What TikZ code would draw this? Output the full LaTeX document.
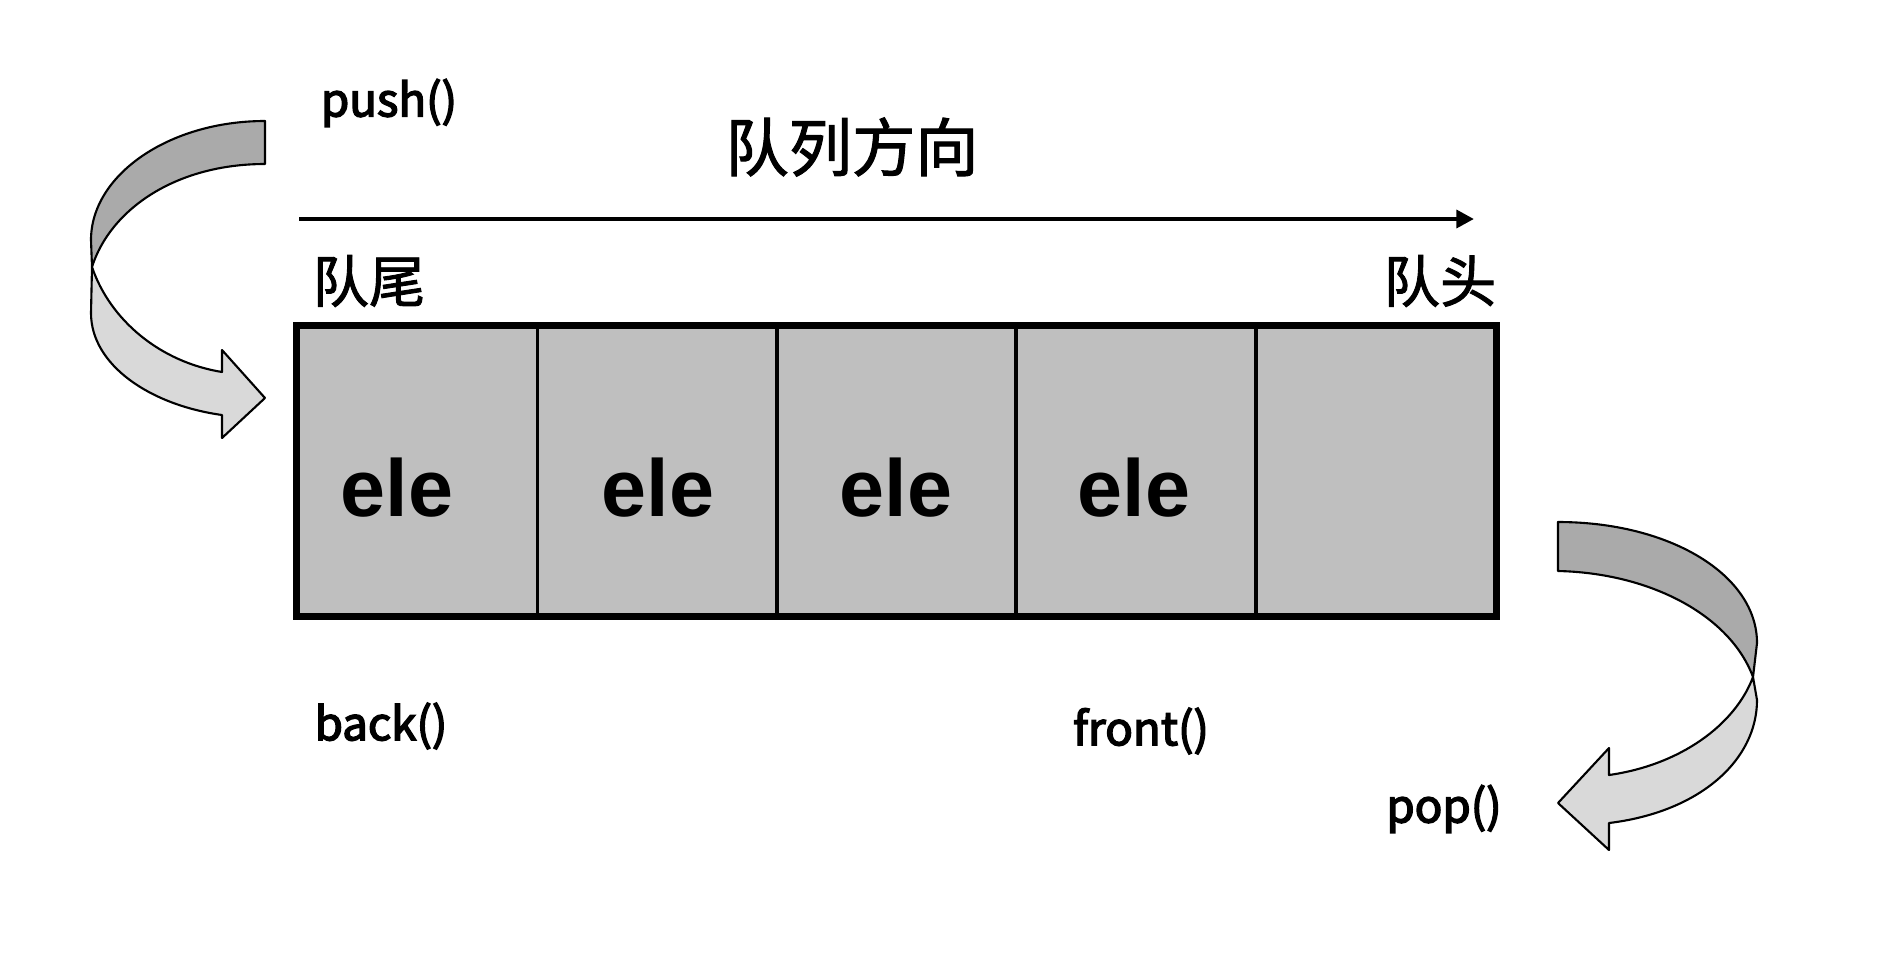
\documentclass[tikz,border=0pt]{standalone}
\usepackage{fontspec}
\setmainfont{Noto Sans CJK SC}
\newfontfamily\medfont{Noto Sans CJK SC}[FakeBold=1.6]
\newfontfamily\opfont{Noto Sans CJK SC}[FakeBold=3.2]
\newfontfamily\elefont{Liberation Sans}
\usetikzlibrary{arrows.meta}
\definecolor{cellgray}{RGB}{191,191,191}
\definecolor{bandback}{RGB}{170,170,170}
\definecolor{bandfront}{RGB}{217,217,217}

\tikzset{
	cell/.style = {draw, line width=1pt, fill=cellgray, minimum width=2.39cm, minimum height=2.88cm, inner sep=0pt},
	eletext/.style = {font=\elefont\bfseries\fontsize{23}{27}\selectfont},
	optext/.style = {font=\opfont\fontsize{13}{16}\selectfont},
	cntext/.style = {font=\medfont\fontsize{16}{19}\selectfont},
	band/.style = {draw, line width=0.6pt, line join=round}
}

\begin{document}
\begin{tikzpicture}[x=0.01cm, y=-0.01cm]
	\useasboundingbox (0,0) rectangle (1891,954);
	% queue cells
	\foreach \i in {1,...,5}
		\node[cell] (c\i) at ({298+239.4*(\i-0.5)},471) {};
	\draw[line width=1.9pt] (c1.north west) rectangle (c5.south east);
	\node[eletext] (e1) at (397,488) {ele};
	\node[eletext] (e2) at (658,488) {ele};
	\node[eletext] (e3) at (896,488) {ele};
	\node[eletext] (e4) at (1134,488) {ele};
	% direction
	\coordinate (dirL) at (299,219);
	\coordinate (dirR) at (1474,219);
	\draw[line width=1.4pt, -{Triangle[length=5pt,width=5pt]}] (dirL) -- (dirR);
	\node[cntext, font=\medfont\fontsize{18}{22}\selectfont] (title) at (852,147) {队列方向};
	\node[cntext] (tail) at (369,281) {队尾};
	\node[cntext] (head) at (1440,281) {队头};
	% labels
	\node[optext] (push) at (389,103) {push()};
	\node[optext] (back) at (381,726) {back()};
	\node[optext] (front) at (1141,731) {front()};
	\node[optext] (pop) at (1444,809) {pop()};
	% push arrow
	\filldraw[band, fill=bandback] (265,121) -- (265,164) .. controls (175,164) and (110,210) .. (92,267)
		-- (91,240) .. controls (91,175) and (169,121) .. (265,121) -- cycle;
	\filldraw[band, fill=bandfront] (92,267) .. controls (110,320) and (160,362) .. (222,372)
		-- (222,350) -- (265,398) -- (222,438) -- (222,415)
		.. controls (150,405) and (91,365) .. (91,313) -- cycle;
	% pop arrow
	\filldraw[band, fill=bandback] (1558,522) -- (1558,571) .. controls (1650,573) and (1730,615) .. (1753,677)
		-- (1757,643) .. controls (1757,575) and (1670,522) .. (1558,522) -- cycle;
	\filldraw[band, fill=bandfront] (1753,677) .. controls (1735,725) and (1680,765) .. (1609,775)
		-- (1609,748) -- (1558,803) -- (1609,850) -- (1609,823)
		.. controls (1700,812) and (1757,760) .. (1757,700) -- cycle;
\end{tikzpicture}
\end{document}
